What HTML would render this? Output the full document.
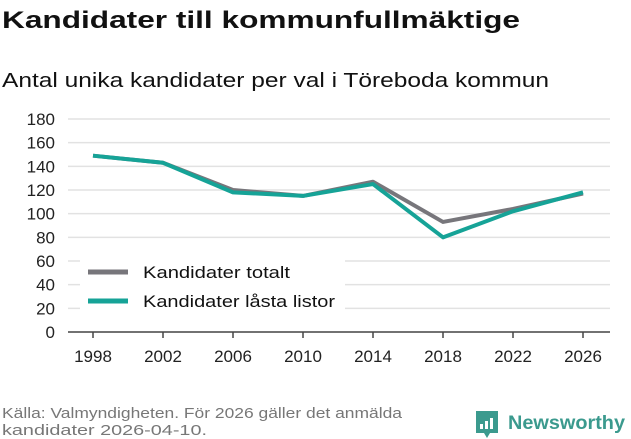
<!DOCTYPE html>
<html><head><meta charset="utf-8"><style>
html,body{margin:0;padding:0;background:#fff;}
svg{display:block;font-family:"Liberation Sans",sans-serif;}
</style></head><body>
<svg width="631" height="439">
<text x="2" y="28" font-size="24" font-weight="bold" fill="#111" textLength="518" lengthAdjust="spacingAndGlyphs">Kandidater till kommunfullmäktige</text>
<text x="2" y="87" font-size="20" fill="#111" textLength="547" lengthAdjust="spacingAndGlyphs">Antal unika kandidater per val i Töreboda kommun</text>
<g id="grid"></g>
<g id="series"></g>
<g id="legend"></g>
<text x="2" y="418" font-size="15" fill="#777" textLength="400" lengthAdjust="spacingAndGlyphs">Källa: Valmyndigheten. För 2026 gäller det anmälda</text>
<text x="2" y="435" font-size="15" fill="#777" textLength="205" lengthAdjust="spacingAndGlyphs">kandidater 2026-04-10.</text>
<g>
<path d="M476 411 h22 v22 h-8 l-3 5 l-3 -5 h-8 z" fill="#3b9a8e"/>
<rect x="480" y="424" width="3" height="5" fill="#fff"/>
<rect x="485" y="421" width="3" height="8" fill="#fff"/>
<rect x="490" y="418" width="3" height="11" fill="#fff"/>
<text x="508" y="429" font-size="19" font-weight="bold" fill="#3b9a8e" textLength="117" lengthAdjust="spacingAndGlyphs">Newsworthy</text>
</g>
<script>
const years=[1998,2002,2006,2010,2014,2018,2022,2026];
const totalt=[149,143,120,115,127,93,104,117];
const lasta=[149,143,118,115,125,80,102,118];
const yTicks=[0,20,40,60,80,100,120,140,160,180];
const NS="http://www.w3.org/2000/svg";
const xS=v=>93+(v-1998)/(2026-1998)*490;
const yS=v=>332-v/180*213;
function mk(t,a,p){const e=document.createElementNS(NS,t);for(const k in a)e.setAttribute(k,a[k]);p.appendChild(e);return e;}
const g=document.getElementById('grid');
yTicks.forEach(t=>{
 if(t>0){const l=mk('line',{x1:68,x2:610,y1:yS(t),y2:yS(t),stroke:'#e2e2e2','stroke-width':1.5},g);
 
 }
 const tx=mk('text',{x:55,y:yS(t)+6,'font-size':17,fill:'#222','text-anchor':'end'},g);tx.textContent=t;
 
 
});
const ax=mk('line',{x1:68,x2:610,y1:332,y2:332,stroke:'#444','stroke-width':1.5},g);


years.forEach(y=>{
 mk('line',{x1:xS(y),x2:xS(y),y1:332,y2:338,stroke:'#444','stroke-width':1.5},g);
 const tx=mk('text',{x:xS(y),y:362,'font-size':17,fill:'#222','text-anchor':'middle'},g);tx.textContent=y;
 
 
});
const s=document.getElementById('series');
[[totalt,'#77767b','line-totalt'],[lasta,'#16a397','line-lasta-listor']].forEach(([d,c,n])=>{
 const p=mk('polyline',{points:d.map((v,i)=>xS(years[i])+','+yS(v)).join(' '),fill:'none',stroke:c,'stroke-width':4,'stroke-linejoin':'round'},s);
 
 
});
const lg=document.getElementById('legend');


mk('rect',{x:80,y:258,width:265,height:62,fill:'#fff'},lg);
[['Kandidater totalt','#77767b',272,147],['Kandidater låsta listor','#16a397',301,192]].forEach(([t,c,y,w])=>{
 mk('line',{x1:88,x2:128,y1:y,y2:y,stroke:c,'stroke-width':5},lg);
 const tx=mk('text',{x:143,y:y+6,'font-size':17,fill:'#111',textLength:w,lengthAdjust:'spacingAndGlyphs'},lg);tx.textContent=t;
 
 
});
</script>
</svg>
</body></html>
